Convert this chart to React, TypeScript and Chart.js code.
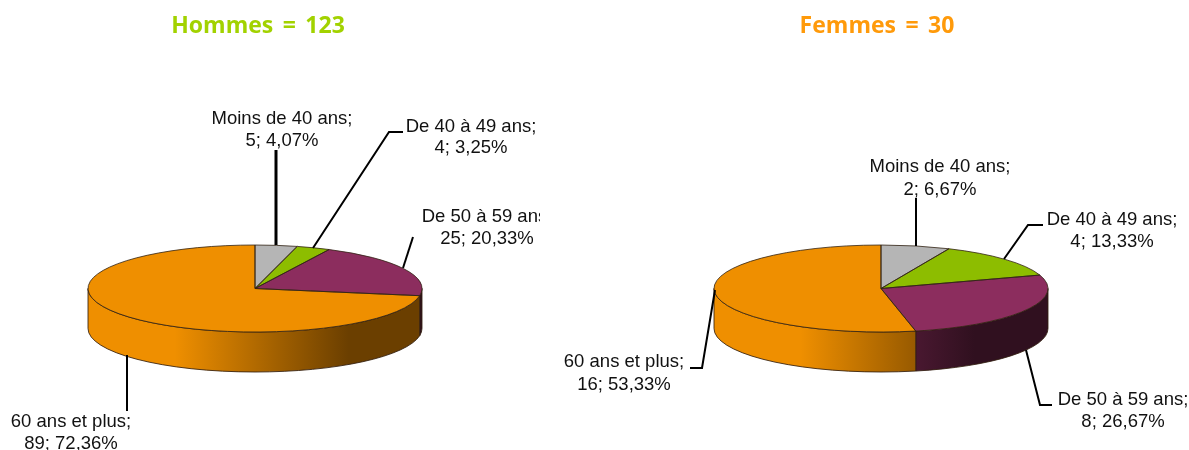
import React, { useEffect, useRef } from "react";
import { Chart, registerables } from "chart.js";

Chart.register(...registerables);

const categories = ["Moins de 40 ans", "De 40 à 49 ans", "De 50 à 59 ans", "60 ans et plus"];
const hommesValues = [5, 4, 25, 89];
const femmesValues = [2, 4, 8, 16];
const hommesTitle = "Hommes = 123";
const femmesTitle = "Femmes = 30";

const sliceColors = ["#b5b5b5", "#8dbd00", "#8c2d5e", "#ef8f00"];
const wallStops: [string, string][] = [
  ["#9a9a9a", "#505050"],
  ["#7aa300", "#3f5500"],
  ["#7a2752", "#30101f"],
  ["#ef8f00", "#6b3f00"],
];

const RX = 167;
const RY = 43.5;
const DEPTH = 40;
const LABEL_FONT = '18.5px "Liberation Sans", Arial, sans-serif';
const TITLE_FONT = 'bold 23px "Comic Sans MS", "Open Sans", "DejaVu Sans", sans-serif';

type Pt = [number, number];
interface LabelSpot { cx: number; y1: number; y2: number; leader: Pt[]; lw: number }
interface PieLook {
  originX: number;
  titleX: number;
  titleColor: string;
  title: string;
  spots: LabelSpot[];
}

const hommesLook: PieLook = {
  originX: 0,
  titleX: 258,
  titleColor: "#a2d200",
  title: hommesTitle,
  spots: [
    { cx: 282, y1: 119, y2: 141, leader: [[276, 150], [276, 245]], lw: 3 },
    { cx: 471, y1: 127, y2: 148, leader: [[403, 132], [389, 132], [313, 248]], lw: 2 },
    { cx: 487, y1: 217, y2: 239, leader: [[413, 237], [403, 268]], lw: 2 },
    { cx: 71, y1: 422, y2: 444, leader: [[127, 355], [127, 411]], lw: 2 },
  ],
};

const femmesLook: PieLook = {
  originX: 540,
  titleX: 877,
  titleColor: "#ff9a0a",
  title: femmesTitle,
  spots: [
    { cx: 940, y1: 167, y2: 190, leader: [[916, 198], [916, 246]], lw: 2 },
    { cx: 1112, y1: 220, y2: 242, leader: [[1043, 225], [1028, 225], [1004, 259]], lw: 2 },
    { cx: 1123, y1: 400, y2: 422, leader: [[1052, 405], [1040, 405], [1026, 350]], lw: 2 },
    { cx: 624, y1: 362, y2: 385, leader: [[690, 368], [702, 368], [715, 290]], lw: 2 },
  ],
};

function pctText(v: number, total: number): string {
  return (v / total * 100).toFixed(2).replace(".", ",") + "%";
}

function pie3dPlugin(look: PieLook, values: number[]) {
  const total = values.reduce((a, b) => a + b, 0);
  return {
    id: "pie3d",
    beforeDatasetsDraw(chart: any) {
      const ctx = chart.ctx;
      const arcs = chart.getDatasetMeta(0).data;
      const cx = arcs[0].x;
      const cy = arcs[0].y;
      // side wall, only the part of each slice facing the viewer
      arcs.forEach((arc: any, i: number) => {
        const a0 = Math.max(arc.startAngle, 0);
        const a1 = Math.min(arc.endAngle, Math.PI);
        if (a1 <= a0) return;
        const g = ctx.createLinearGradient(cx - RX, 0, cx + RX, 0);
        g.addColorStop(0, wallStops[i][0]);
        g.addColorStop(0.26, wallStops[i][0]);
        g.addColorStop(0.78, wallStops[i][1]);
        g.addColorStop(1, wallStops[i][1]);
        ctx.beginPath();
        ctx.ellipse(cx, cy, RX, RY, 0, a0, a1);
        ctx.lineTo(cx + RX * Math.cos(a1), cy + RY * Math.sin(a1) + DEPTH);
        ctx.ellipse(cx, cy + DEPTH, RX, RY, 0, a1, a0, true);
        ctx.closePath();
        ctx.fillStyle = g;
        ctx.fill();
        ctx.strokeStyle = "rgba(50,30,15,0.85)";
        ctx.lineWidth = 1;
        ctx.stroke();
      });
      ctx.save();
      ctx.translate(cx, cy);
      ctx.scale(1, RY / RX);
      ctx.translate(-cx, -cy);
    },
    afterDatasetsDraw(chart: any) {
      const ctx = chart.ctx;
      ctx.restore();
      const arcs = chart.getDatasetMeta(0).data;
      const cx = arcs[0].x;
      const cy = arcs[0].y;
      arcs.forEach((arc: any) => {
        ctx.beginPath();
        ctx.moveTo(cx, cy);
        ctx.ellipse(cx, cy, RX, RY, 0, arc.startAngle, arc.endAngle);
        ctx.closePath();
        ctx.strokeStyle = "rgba(50,35,20,0.8)";
        ctx.lineWidth = 1;
        ctx.stroke();
      });
      const ox = look.originX;
      // titles
      ctx.textAlign = "center";
      ctx.textBaseline = "middle";
      ctx.font = TITLE_FONT;
      ctx.fillStyle = look.titleColor;
      ctx.wordSpacing = "3.5px";
      ctx.fillText(look.title, look.titleX - ox, 26);
      ctx.wordSpacing = "0px";
      // leaders and labels
      look.spots.forEach((s, i) => {
        ctx.beginPath();
        s.leader.forEach((p, k) => {
          if (k === 0) ctx.moveTo(p[0] - ox, p[1]);
          else ctx.lineTo(p[0] - ox, p[1]);
        });
        ctx.strokeStyle = "#000";
        ctx.lineWidth = s.lw;
        ctx.stroke();
        ctx.font = LABEL_FONT;
        ctx.fillStyle = "#111";
        ctx.fillText(categories[i] + ";", s.cx - ox, s.y1);
        ctx.fillText(values[i] + "; " + pctText(values[i], total), s.cx - ox, s.y2);
      });
    },
  };
}

function makeChart(canvas: HTMLCanvasElement, values: number[], look: PieLook, padding: any) {
  return new Chart(canvas, {
    type: "pie",
    data: {
      labels: categories,
      datasets: [{ data: values, backgroundColor: sliceColors, borderWidth: 0 }],
    },
    options: {
      animation: false,
      responsive: false,
      radius: RX,
      layout: { padding },
      plugins: { legend: { display: false }, tooltip: { enabled: false } },
    } as any,
    plugins: [pie3dPlugin(look, values)],
  });
}

export default function App() {
  const leftRef = useRef<HTMLCanvasElement>(null);
  const rightRef = useRef<HTMLCanvasElement>(null);
  useEffect(() => {
    const a = makeChart(leftRef.current!, hommesValues, hommesLook, { top: 127, right: 30 });
    const b = makeChart(rightRef.current!, femmesValues, femmesLook, { top: 127, left: 33 });
    return () => {
      a.destroy();
      b.destroy();
    };
  }, []);
  return (
    <div style={{ position: "absolute", left: 0, top: 0, width: 1189, height: 450, background: "#fff", overflow: "hidden" }}>
      <canvas ref={leftRef} width={540} height={450} style={{ position: "absolute", left: 0, top: 0 }} />
      <canvas ref={rightRef} width={649} height={450} style={{ position: "absolute", left: 540, top: 0 }} />
    </div>
  );
}
